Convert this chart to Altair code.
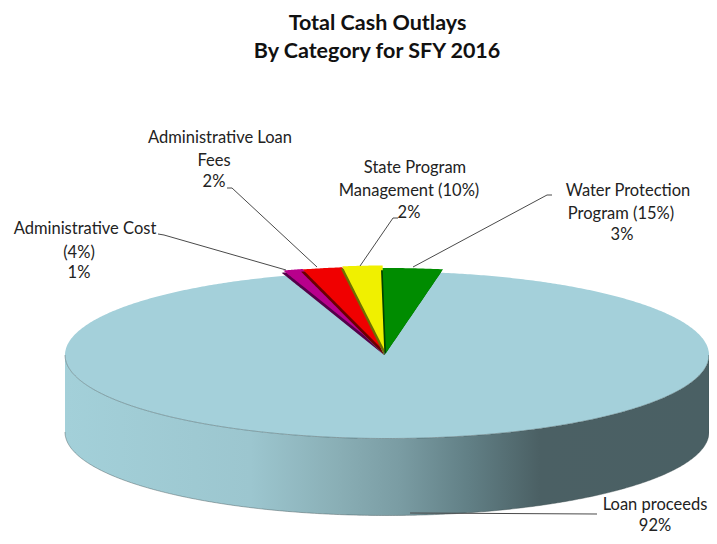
import numpy as np
import pandas as pd
import altair as alt

# ---- values
categories = ["Water Protection\nProgram (15%)", "State Program\nManagement (10%)",
              "Administrative Loan\nFees", "Administrative Cost\n(4%)", "Loan proceeds"]
shares = [3, 2, 2, 1, 92]
share_labels = ["3%", "2%", "2%", "1%", "92%"]
title_lines = ["Total  Cash  Outlays", "By Category for SFY 2016"]

# ---- drawing style and geometry (picture pixels)
FONT = "Lato"
face_colors = ["#008c00", "#f0f000", "#f00000", "#b8008c"]
edge_colors = ["#004400", "#6e6e00", "#6a0000", "#55004a"]
wedge_ry = [85, 87.5, 86.5, 87]
CX, CY, RX, RY, DEPTH = 387, 355, 322, 83.5, 77
AX, AY, START = 386, 353, 10.2
X_DOM, Y_DOM = [8, 709], [536, 8]
SIDE_STOPS = [(64, "#a3d0d9"), (250, "#9cc6cf"), (340, "#89aeb5"), (400, "#7a9ca3"),
              (470, "#617f85"), (540, "#4b6064"), (710, "#4a6064")]

xs = alt.Scale(domain=X_DOM, nice=False, zero=False)
ys = alt.Scale(domain=Y_DOM, nice=False, zero=False)
X = lambda f="x": alt.X(f"{f}:Q", scale=xs, axis=None)
Y = lambda f="y": alt.Y(f"{f}:Q", scale=ys, axis=None)

t = np.linspace(0, np.pi, 361)
ex = CX - RX * np.cos(t)
half = RY * np.sin(t)

top = pd.DataFrame({"x": ex, "y": CY - half, "y2": CY + half})
side = pd.DataFrame({"x": ex, "y": CY + half, "y2": CY + half + DEPTH})

layers = []
grad = alt.Gradient(gradient="linear", x1=0, y1=0, x2=1, y2=0,
                    stops=[alt.GradientStop(offset=(p - 64) / 646, color=c) for p, c in SIDE_STOPS])
layers.append(alt.Chart(side).mark_area(color=grad, interpolate="linear").encode(
    x=X(), y=Y(), y2="y2:Q"))
layers.append(alt.Chart(top).mark_area(color="#a4d0da").encode(x=X(), y=Y(), y2="y2:Q"))

rim = pd.DataFrame({"x": np.r_[ex, ex[::-1]],
                    "y": np.r_[CY + half, CY + half[::-1] + DEPTH],
                    "i": np.arange(2 * len(ex))})
layers.append(alt.Chart(rim).mark_line(color="#3c4c50", strokeWidth=0.6, opacity=0.7).encode(
    x=X(), y=Y(), order="i:Q"))


def wedge_frame(a0, a1, ry, dx=0.0, dy=0.0):
    """Vertical slices of the polygon apex + outer arc, for an area mark."""
    th = np.radians(np.linspace(a0, a1, 25))
    px = np.r_[AX, AX + RX * np.sin(th)] + dx
    py = np.r_[AY, AY - ry * np.cos(th)] + dy
    n = len(px)
    rows = []
    for x in np.unique(px):
        hits = []
        for i in range(n):
            j = (i + 1) % n
            x0, x1 = px[i], px[j]
            if min(x0, x1) <= x <= max(x0, x1):
                if x1 == x0:
                    hits += [py[i], py[j]]
                else:
                    hits.append(py[i] + (py[j] - py[i]) * (x - x0) / (x1 - x0))
        rows.append({"x": x, "y": min(hits), "y2": max(hits)})
    return pd.DataFrame(rows)


# wedges run anticlockwise from START; paint last-to-first so each edge overlaps its neighbour
bounds = START - np.r_[0, np.cumsum(shares[:4])] * 3.6
for k in [3, 2, 1, 0]:
    a0, a1 = bounds[k + 1], bounds[k]
    layers.append(alt.Chart(wedge_frame(a0, a1, wedge_ry[k], -1.6, 2.2)).mark_area(color=edge_colors[k]).encode(
        x=X(), y=Y(), y2="y2:Q"))
    layers.append(alt.Chart(wedge_frame(a0, a1, wedge_ry[k])).mark_area(color=face_colors[k]).encode(
        x=X(), y=Y(), y2="y2:Q"))

# leader lines
leaders = [
    [(158, 234), (164, 235), (286, 270)],
    [(227, 188), (232, 188), (317, 267)],
    [(398, 218), (393, 218), (360, 266)],
    [(552, 195), (547, 195), (413, 267)],
    [(597, 514), (410, 513)],
]
rows = [{"x": p[0], "y": p[1], "g": g, "i": i} for g, L in enumerate(leaders) for i, p in enumerate(L)]
layers.append(alt.Chart(pd.DataFrame(rows)).mark_line(color="#4a4a4a", strokeWidth=1).encode(
    x=X(), y=Y(), detail="g:N", order="i:Q"))

# labels: name lines then the share
label_anchor = [
    [(628, 191), (621, 214), (622, 235)],
    [(415, 168), (409, 191), (409, 213)],
    [(220, 138), (214, 161), (214, 182)],
    [(85, 229), (79, 253), (79, 273)],
    [(655, 505), (655, 526)],
]
rows = []
for cat, sh, anc in zip(categories, share_labels, label_anchor):
    for txt, (x, y) in zip(cat.split("\n") + [sh], anc):
        rows.append({"x": x, "y": y, "t": txt})
layers.append(alt.Chart(pd.DataFrame(rows)).mark_text(
    font=FONT, fontSize=16.5, color="#222222", align="center", baseline="middle").encode(
    x=X(), y=Y(), text="t:N"))

title_df = pd.DataFrame({"x": [377.5, 377], "y": [24, 52], "t": title_lines})
layers.append(alt.Chart(title_df).mark_text(
    font=FONT, fontSize=21.5, fontWeight="bold", color="#111111", align="center", baseline="middle").encode(
    x=X(), y=Y(), text="t:N"))

chart = alt.layer(*layers).properties(
    width=701, height=528, padding=0,
    background="white",
    autosize=alt.AutoSizeParams(type="none"),
).configure_view(stroke=None)

chart.save("out.html", embed_options={"renderer": "svg", "actions": False})
